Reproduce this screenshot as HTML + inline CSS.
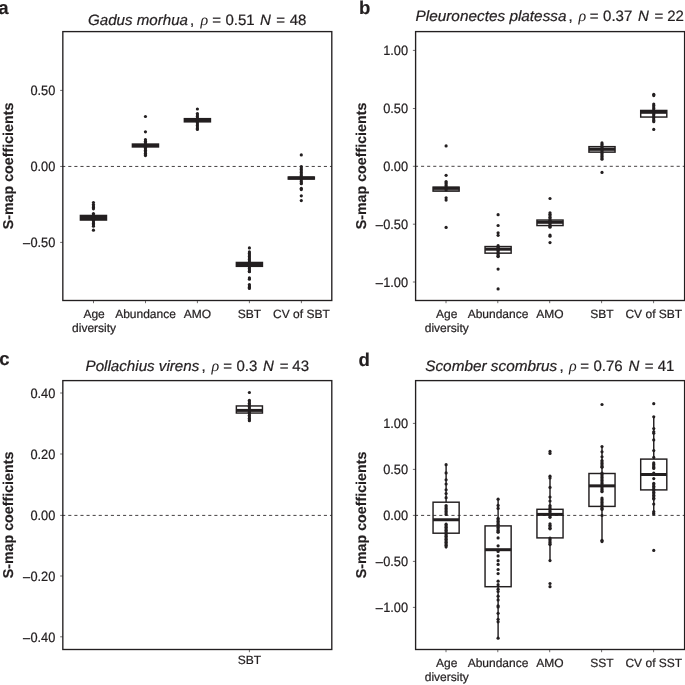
<!DOCTYPE html>
<html lang="en"><head><meta charset="utf-8"><title>S-map coefficients</title>
<style>
html,body{margin:0;padding:0;background:#fff;}
body{width:685px;height:685px;overflow:hidden;}
svg{display:block;will-change:transform;text-rendering:geometricPrecision;font-family:"Liberation Sans",sans-serif;}
</style></head><body>
<svg width="685" height="685" viewBox="0 0 685 685">
<rect x="0" y="0" width="685" height="685" fill="#ffffff"/>
<line x1="62.18" y1="166.45" x2="331.8" y2="166.45" stroke="#231f20" stroke-width="0.85" stroke-dasharray="3.1 2.986"/>
<rect x="80.40" y="215.45" width="26.10" height="4.60" fill="#231f20" stroke="#231f20" stroke-width="1.45"/>
<line x1="80.40" y1="217.70" x2="106.50" y2="217.70" stroke="#231f20" stroke-width="3.0"/>
<circle cx="93.45" cy="202.5" r="1.6" fill="#231f20"/>
<circle cx="93.45" cy="204.6" r="1.6" fill="#231f20"/>
<circle cx="93.45" cy="206.0" r="1.6" fill="#231f20"/>
<circle cx="93.45" cy="207.4" r="1.6" fill="#231f20"/>
<circle cx="93.45" cy="208.8" r="1.6" fill="#231f20"/>
<circle cx="93.45" cy="213.6" r="1.6" fill="#231f20"/>
<circle cx="93.45" cy="215.0" r="1.6" fill="#231f20"/>
<circle cx="93.45" cy="216.4" r="1.6" fill="#231f20"/>
<circle cx="93.45" cy="217.8" r="1.6" fill="#231f20"/>
<circle cx="93.45" cy="219.2" r="1.6" fill="#231f20"/>
<circle cx="93.45" cy="220.6" r="1.6" fill="#231f20"/>
<circle cx="93.45" cy="222.0" r="1.6" fill="#231f20"/>
<circle cx="93.45" cy="223.4" r="1.6" fill="#231f20"/>
<circle cx="93.45" cy="224.8" r="1.6" fill="#231f20"/>
<circle cx="93.45" cy="226.2" r="1.6" fill="#231f20"/>
<circle cx="93.45" cy="230.2" r="1.6" fill="#231f20"/>
<rect x="132.40" y="144.05" width="26.10" height="2.90" fill="#231f20" stroke="#231f20" stroke-width="1.45"/>
<line x1="132.40" y1="145.50" x2="158.50" y2="145.50" stroke="#231f20" stroke-width="3.0"/>
<circle cx="145.45" cy="116.5" r="1.6" fill="#231f20"/>
<circle cx="145.45" cy="131.8" r="1.6" fill="#231f20"/>
<circle cx="145.45" cy="139.7" r="1.6" fill="#231f20"/>
<circle cx="145.45" cy="141.2" r="1.6" fill="#231f20"/>
<circle cx="145.45" cy="142.7" r="1.6" fill="#231f20"/>
<circle cx="145.45" cy="144.2" r="1.6" fill="#231f20"/>
<circle cx="145.45" cy="145.7" r="1.6" fill="#231f20"/>
<circle cx="145.45" cy="147.2" r="1.6" fill="#231f20"/>
<circle cx="145.45" cy="148.7" r="1.6" fill="#231f20"/>
<circle cx="145.45" cy="150.2" r="1.6" fill="#231f20"/>
<circle cx="145.45" cy="151.7" r="1.6" fill="#231f20"/>
<circle cx="145.45" cy="153.2" r="1.6" fill="#231f20"/>
<circle cx="145.45" cy="154.7" r="1.6" fill="#231f20"/>
<circle cx="145.45" cy="155.6" r="1.6" fill="#231f20"/>
<rect x="184.35" y="118.65" width="26.10" height="3.20" fill="#231f20" stroke="#231f20" stroke-width="1.45"/>
<line x1="184.35" y1="120.20" x2="210.45" y2="120.20" stroke="#231f20" stroke-width="3.0"/>
<circle cx="197.4" cy="109" r="1.6" fill="#231f20"/>
<circle cx="197.4" cy="113.5" r="1.6" fill="#231f20"/>
<circle cx="197.4" cy="115.0" r="1.6" fill="#231f20"/>
<circle cx="197.4" cy="116.5" r="1.6" fill="#231f20"/>
<circle cx="197.4" cy="118.0" r="1.6" fill="#231f20"/>
<circle cx="197.4" cy="119.5" r="1.6" fill="#231f20"/>
<circle cx="197.4" cy="121.0" r="1.6" fill="#231f20"/>
<circle cx="197.4" cy="122.5" r="1.6" fill="#231f20"/>
<circle cx="197.4" cy="124.0" r="1.6" fill="#231f20"/>
<circle cx="197.4" cy="125.5" r="1.6" fill="#231f20"/>
<circle cx="197.4" cy="127.0" r="1.6" fill="#231f20"/>
<circle cx="197.4" cy="128.5" r="1.6" fill="#231f20"/>
<circle cx="197.4" cy="129.5" r="1.6" fill="#231f20"/>
<rect x="236.35" y="262.45" width="26.10" height="3.90" fill="#231f20" stroke="#231f20" stroke-width="1.45"/>
<line x1="236.35" y1="264.40" x2="262.45" y2="264.40" stroke="#231f20" stroke-width="3.0"/>
<circle cx="249.4" cy="247.9" r="1.6" fill="#231f20"/>
<circle cx="249.4" cy="251.9" r="1.6" fill="#231f20"/>
<circle cx="249.4" cy="253.4" r="1.6" fill="#231f20"/>
<circle cx="249.4" cy="254.9" r="1.6" fill="#231f20"/>
<circle cx="249.4" cy="256.4" r="1.6" fill="#231f20"/>
<circle cx="249.4" cy="257.9" r="1.6" fill="#231f20"/>
<circle cx="249.4" cy="259.4" r="1.6" fill="#231f20"/>
<circle cx="249.4" cy="260.9" r="1.6" fill="#231f20"/>
<circle cx="249.4" cy="262.4" r="1.6" fill="#231f20"/>
<circle cx="249.4" cy="263.9" r="1.6" fill="#231f20"/>
<circle cx="249.4" cy="265.4" r="1.6" fill="#231f20"/>
<circle cx="249.4" cy="266.9" r="1.6" fill="#231f20"/>
<circle cx="249.4" cy="268.4" r="1.6" fill="#231f20"/>
<circle cx="249.4" cy="269.9" r="1.6" fill="#231f20"/>
<circle cx="249.4" cy="271.4" r="1.6" fill="#231f20"/>
<circle cx="249.4" cy="271.7" r="1.6" fill="#231f20"/>
<circle cx="249.4" cy="277.9" r="1.6" fill="#231f20"/>
<circle cx="249.4" cy="279.2" r="1.6" fill="#231f20"/>
<circle cx="249.4" cy="284.6" r="1.6" fill="#231f20"/>
<circle cx="249.4" cy="285.9" r="1.6" fill="#231f20"/>
<circle cx="249.4" cy="287.2" r="1.6" fill="#231f20"/>
<circle cx="249.4" cy="288.5" r="1.6" fill="#231f20"/>
<rect x="288.25" y="177.05" width="26.10" height="2.00" fill="#231f20" stroke="#231f20" stroke-width="1.45"/>
<line x1="288.25" y1="178.00" x2="314.35" y2="178.00" stroke="#231f20" stroke-width="3.0"/>
<circle cx="301.3" cy="154.9" r="1.6" fill="#231f20"/>
<circle cx="301.3" cy="166.5" r="1.6" fill="#231f20"/>
<circle cx="301.3" cy="168.0" r="1.6" fill="#231f20"/>
<circle cx="301.3" cy="169.5" r="1.6" fill="#231f20"/>
<circle cx="301.3" cy="171.0" r="1.6" fill="#231f20"/>
<circle cx="301.3" cy="172.5" r="1.6" fill="#231f20"/>
<circle cx="301.3" cy="174.0" r="1.6" fill="#231f20"/>
<circle cx="301.3" cy="175.5" r="1.6" fill="#231f20"/>
<circle cx="301.3" cy="177.0" r="1.6" fill="#231f20"/>
<circle cx="301.3" cy="178.5" r="1.6" fill="#231f20"/>
<circle cx="301.3" cy="180.0" r="1.6" fill="#231f20"/>
<circle cx="301.3" cy="181.5" r="1.6" fill="#231f20"/>
<circle cx="301.3" cy="183.0" r="1.6" fill="#231f20"/>
<circle cx="301.3" cy="183.7" r="1.6" fill="#231f20"/>
<circle cx="301.3" cy="188.3" r="1.6" fill="#231f20"/>
<circle cx="301.3" cy="189.6" r="1.6" fill="#231f20"/>
<circle cx="301.3" cy="195.8" r="1.6" fill="#231f20"/>
<circle cx="301.3" cy="200.6" r="1.6" fill="#231f20"/>
<rect x="62.83" y="31.6" width="268.97" height="268.90" fill="none" stroke="#231f20" stroke-width="1.35"/>
<line x1="60.13" y1="90.4" x2="62.83" y2="90.4" stroke="#231f20" stroke-width="0.65"/>
<text transform="translate(55.33,95.15) scale(1,1.06)" font-size="12.8" stroke="#231f20" stroke-width="0.22" text-anchor="end" fill="#231f20">0.50</text>
<line x1="60.13" y1="166.45" x2="62.83" y2="166.45" stroke="#231f20" stroke-width="0.65"/>
<text transform="translate(55.33,171.20) scale(1,1.06)" font-size="12.8" stroke="#231f20" stroke-width="0.22" text-anchor="end" fill="#231f20">0.00</text>
<line x1="60.13" y1="242.4" x2="62.83" y2="242.4" stroke="#231f20" stroke-width="0.65"/>
<text transform="translate(55.33,247.15) scale(1,1.06)" font-size="12.8" stroke="#231f20" stroke-width="0.22" text-anchor="end" fill="#231f20">–<tspan dx="0.4">0.50</tspan></text>
<line x1="93.5" y1="300.5" x2="93.5" y2="303.20" stroke="#231f20" stroke-width="0.65"/>
<text x="94.10" y="317.60" font-size="12.0" stroke="#231f20" stroke-width="0.22" text-anchor="middle" fill="#231f20">Age</text>
<text x="94.10" y="332.20" font-size="12.0" stroke="#231f20" stroke-width="0.22" text-anchor="middle" fill="#231f20">diversity</text>
<line x1="145.5" y1="300.5" x2="145.5" y2="303.20" stroke="#231f20" stroke-width="0.65"/>
<text x="145.50" y="317.60" font-size="12.0" stroke="#231f20" stroke-width="0.22" text-anchor="middle" fill="#231f20">Abundance</text>
<line x1="197.4" y1="300.5" x2="197.4" y2="303.20" stroke="#231f20" stroke-width="0.65"/>
<text x="197.40" y="317.60" font-size="12.0" stroke="#231f20" stroke-width="0.22" text-anchor="middle" fill="#231f20">AMO</text>
<line x1="249.4" y1="300.5" x2="249.4" y2="303.20" stroke="#231f20" stroke-width="0.65"/>
<text x="249.40" y="317.60" font-size="12.0" stroke="#231f20" stroke-width="0.22" text-anchor="middle" fill="#231f20">SBT</text>
<line x1="301.4" y1="300.5" x2="301.4" y2="303.20" stroke="#231f20" stroke-width="0.65"/>
<text x="301.40" y="317.60" font-size="12.0" stroke="#231f20" stroke-width="0.22" text-anchor="middle" fill="#231f20">CV of SBT</text>
<text transform="translate(13.0,166.0) rotate(-90)" font-size="14.25" font-weight="bold" stroke="#231f20" stroke-width="0.15" text-anchor="middle" fill="#231f20">S-map coefficients</text>
<text x="-1.71" y="14.10" font-size="18.6" font-weight="bold" stroke="#231f20" stroke-width="0.15" fill="#231f20">a</text>
<text x="88.02" y="24.80" font-size="15" font-style="italic" stroke="#231f20" stroke-width="0.22" fill="#231f20" textLength="100.03" lengthAdjust="spacingAndGlyphs">Gadus morhua</text>
<text x="190.05" y="24.80" font-size="15" stroke="#231f20" stroke-width="0.22" fill="#231f20">,</text>
<text x="200.48" y="24.80" font-size="16" font-style="italic" font-family="'Liberation Serif', serif" fill="#231f20">ρ</text>
<text x="212.32" y="24.80" font-size="15" stroke="#231f20" stroke-width="0.22" fill="#231f20">=</text>
<text x="225.47" y="24.80" font-size="15" stroke="#231f20" stroke-width="0.22" fill="#231f20">0.51</text>
<text x="260.05" y="24.80" font-size="15" font-style="italic" stroke="#231f20" stroke-width="0.22" fill="#231f20">N</text>
<text x="276.32" y="24.80" font-size="15" stroke="#231f20" stroke-width="0.22" fill="#231f20">=</text>
<text x="289.70" y="24.80" font-size="15" stroke="#231f20" stroke-width="0.22" fill="#231f20">48</text>
<line x1="414.95" y1="166.3" x2="684.6" y2="166.3" stroke="#231f20" stroke-width="0.85" stroke-dasharray="3.1 2.986"/>
<rect x="433.05" y="187.15" width="26.10" height="4.00" fill="#9a9a9a" stroke="#231f20" stroke-width="1.45"/>
<line x1="433.05" y1="188.30" x2="459.15" y2="188.30" stroke="#231f20" stroke-width="3.0"/>
<circle cx="446.1" cy="145.9" r="1.6" fill="#231f20"/>
<circle cx="446.1" cy="175.3" r="1.6" fill="#231f20"/>
<circle cx="446.1" cy="181.5" r="1.6" fill="#231f20"/>
<circle cx="446.1" cy="182.8" r="1.6" fill="#231f20"/>
<circle cx="446.1" cy="184" r="1.6" fill="#231f20"/>
<circle cx="446.1" cy="185.5" r="1.6" fill="#231f20"/>
<circle cx="446.1" cy="187.0" r="1.6" fill="#231f20"/>
<circle cx="446.1" cy="188.5" r="1.6" fill="#231f20"/>
<circle cx="446.1" cy="190.0" r="1.6" fill="#231f20"/>
<circle cx="446.1" cy="197.8" r="1.6" fill="#231f20"/>
<circle cx="446.1" cy="200.1" r="1.6" fill="#231f20"/>
<circle cx="446.1" cy="227.4" r="1.6" fill="#231f20"/>
<rect x="485.05" y="246.55" width="26.10" height="6.60" fill="none" stroke="#231f20" stroke-width="1.45"/>
<line x1="485.05" y1="249.20" x2="511.15" y2="249.20" stroke="#231f20" stroke-width="3.0"/>
<circle cx="498.1" cy="214.7" r="1.6" fill="#231f20"/>
<circle cx="498.1" cy="225.5" r="1.6" fill="#231f20"/>
<circle cx="498.1" cy="232.8" r="1.6" fill="#231f20"/>
<circle cx="498.1" cy="235.3" r="1.6" fill="#231f20"/>
<circle cx="498.1" cy="245.7" r="1.6" fill="#231f20"/>
<circle cx="498.1" cy="247.2" r="1.6" fill="#231f20"/>
<circle cx="498.1" cy="248.7" r="1.6" fill="#231f20"/>
<circle cx="498.1" cy="250.2" r="1.6" fill="#231f20"/>
<circle cx="498.1" cy="251.7" r="1.6" fill="#231f20"/>
<circle cx="498.1" cy="253.2" r="1.6" fill="#231f20"/>
<circle cx="498.1" cy="254.7" r="1.6" fill="#231f20"/>
<circle cx="498.1" cy="256.2" r="1.6" fill="#231f20"/>
<circle cx="498.1" cy="256.6" r="1.6" fill="#231f20"/>
<circle cx="498.1" cy="269.1" r="1.6" fill="#231f20"/>
<circle cx="498.1" cy="288.9" r="1.6" fill="#231f20"/>
<rect x="536.95" y="220.05" width="26.10" height="5.50" fill="none" stroke="#231f20" stroke-width="1.45"/>
<line x1="536.95" y1="222.30" x2="563.05" y2="222.30" stroke="#231f20" stroke-width="3.0"/>
<circle cx="550.0" cy="198.5" r="1.6" fill="#231f20"/>
<circle cx="550.0" cy="212.8" r="1.6" fill="#231f20"/>
<circle cx="550.0" cy="214.3" r="1.6" fill="#231f20"/>
<circle cx="550.0" cy="215.8" r="1.6" fill="#231f20"/>
<circle cx="550.0" cy="217.3" r="1.6" fill="#231f20"/>
<circle cx="550.0" cy="218.8" r="1.6" fill="#231f20"/>
<circle cx="550.0" cy="220.3" r="1.6" fill="#231f20"/>
<circle cx="550.0" cy="221.8" r="1.6" fill="#231f20"/>
<circle cx="550.0" cy="223.3" r="1.6" fill="#231f20"/>
<circle cx="550.0" cy="224.8" r="1.6" fill="#231f20"/>
<circle cx="550.0" cy="226.3" r="1.6" fill="#231f20"/>
<circle cx="550.0" cy="227.2" r="1.6" fill="#231f20"/>
<circle cx="550.0" cy="235.0" r="1.6" fill="#231f20"/>
<circle cx="550.0" cy="236.2" r="1.6" fill="#231f20"/>
<circle cx="550.0" cy="242.6" r="1.6" fill="#231f20"/>
<rect x="588.95" y="146.65" width="26.10" height="5.50" fill="#ddd" stroke="#231f20" stroke-width="1.45"/>
<line x1="588.95" y1="149.30" x2="615.05" y2="149.30" stroke="#231f20" stroke-width="3.0"/>
<circle cx="602.0" cy="142.9" r="1.6" fill="#231f20"/>
<circle cx="602.0" cy="144.4" r="1.6" fill="#231f20"/>
<circle cx="602.0" cy="145.9" r="1.6" fill="#231f20"/>
<circle cx="602.0" cy="147.4" r="1.6" fill="#231f20"/>
<circle cx="602.0" cy="148.9" r="1.6" fill="#231f20"/>
<circle cx="602.0" cy="150.4" r="1.6" fill="#231f20"/>
<circle cx="602.0" cy="151.9" r="1.6" fill="#231f20"/>
<circle cx="602.0" cy="153.4" r="1.6" fill="#231f20"/>
<circle cx="602.0" cy="154.9" r="1.6" fill="#231f20"/>
<circle cx="602.0" cy="156.4" r="1.6" fill="#231f20"/>
<circle cx="602.0" cy="157.9" r="1.6" fill="#231f20"/>
<circle cx="602.0" cy="159.2" r="1.6" fill="#231f20"/>
<circle cx="602.0" cy="172.4" r="1.6" fill="#231f20"/>
<rect x="640.70" y="110.45" width="26.10" height="6.60" fill="none" stroke="#231f20" stroke-width="1.45"/>
<line x1="640.70" y1="112.30" x2="666.80" y2="112.30" stroke="#231f20" stroke-width="3.0"/>
<circle cx="653.75" cy="94.3" r="1.6" fill="#231f20"/>
<circle cx="653.75" cy="95.6" r="1.6" fill="#231f20"/>
<circle cx="653.75" cy="104.1" r="1.6" fill="#231f20"/>
<circle cx="653.75" cy="105.6" r="1.6" fill="#231f20"/>
<circle cx="653.75" cy="107.1" r="1.6" fill="#231f20"/>
<circle cx="653.75" cy="108.6" r="1.6" fill="#231f20"/>
<circle cx="653.75" cy="110.1" r="1.6" fill="#231f20"/>
<circle cx="653.75" cy="111.6" r="1.6" fill="#231f20"/>
<circle cx="653.75" cy="113.1" r="1.6" fill="#231f20"/>
<circle cx="653.75" cy="114.6" r="1.6" fill="#231f20"/>
<circle cx="653.75" cy="116.1" r="1.6" fill="#231f20"/>
<circle cx="653.75" cy="117.6" r="1.6" fill="#231f20"/>
<circle cx="653.75" cy="119.1" r="1.6" fill="#231f20"/>
<circle cx="653.75" cy="120.6" r="1.6" fill="#231f20"/>
<circle cx="653.75" cy="121.7" r="1.6" fill="#231f20"/>
<circle cx="653.75" cy="129.4" r="1.6" fill="#231f20"/>
<rect x="415.6" y="31.6" width="269.00" height="268.90" fill="none" stroke="#231f20" stroke-width="1.35"/>
<line x1="412.90" y1="50.4" x2="415.6" y2="50.4" stroke="#231f20" stroke-width="0.65"/>
<text transform="translate(408.10,55.15) scale(1,1.06)" font-size="12.8" stroke="#231f20" stroke-width="0.22" text-anchor="end" fill="#231f20">1.00</text>
<line x1="412.90" y1="108.5" x2="415.6" y2="108.5" stroke="#231f20" stroke-width="0.65"/>
<text transform="translate(408.10,113.25) scale(1,1.06)" font-size="12.8" stroke="#231f20" stroke-width="0.22" text-anchor="end" fill="#231f20">0.50</text>
<line x1="412.90" y1="166.3" x2="415.6" y2="166.3" stroke="#231f20" stroke-width="0.65"/>
<text transform="translate(408.10,171.05) scale(1,1.06)" font-size="12.8" stroke="#231f20" stroke-width="0.22" text-anchor="end" fill="#231f20">0.00</text>
<line x1="412.90" y1="224.2" x2="415.6" y2="224.2" stroke="#231f20" stroke-width="0.65"/>
<text transform="translate(408.10,228.95) scale(1,1.06)" font-size="12.8" stroke="#231f20" stroke-width="0.22" text-anchor="end" fill="#231f20">–<tspan dx="0.4">0.50</tspan></text>
<line x1="412.90" y1="282.0" x2="415.6" y2="282.0" stroke="#231f20" stroke-width="0.65"/>
<text transform="translate(408.10,286.75) scale(1,1.06)" font-size="12.8" stroke="#231f20" stroke-width="0.22" text-anchor="end" fill="#231f20">–<tspan dx="0.4">1.00</tspan></text>
<line x1="446" y1="300.5" x2="446" y2="303.20" stroke="#231f20" stroke-width="0.65"/>
<text x="446.80" y="317.60" font-size="12.0" stroke="#231f20" stroke-width="0.22" text-anchor="middle" fill="#231f20">Age</text>
<text x="446.80" y="332.20" font-size="12.0" stroke="#231f20" stroke-width="0.22" text-anchor="middle" fill="#231f20">diversity</text>
<line x1="497.8" y1="300.5" x2="497.8" y2="303.20" stroke="#231f20" stroke-width="0.65"/>
<text x="498.00" y="317.60" font-size="12.0" stroke="#231f20" stroke-width="0.22" text-anchor="middle" fill="#231f20">Abundance</text>
<line x1="549.7" y1="300.5" x2="549.7" y2="303.20" stroke="#231f20" stroke-width="0.65"/>
<text x="549.90" y="317.60" font-size="12.0" stroke="#231f20" stroke-width="0.22" text-anchor="middle" fill="#231f20">AMO</text>
<line x1="601.6" y1="300.5" x2="601.6" y2="303.20" stroke="#231f20" stroke-width="0.65"/>
<text x="601.80" y="317.60" font-size="12.0" stroke="#231f20" stroke-width="0.22" text-anchor="middle" fill="#231f20">SBT</text>
<line x1="653.6" y1="300.5" x2="653.6" y2="303.20" stroke="#231f20" stroke-width="0.65"/>
<text x="653.80" y="317.60" font-size="12.0" stroke="#231f20" stroke-width="0.22" text-anchor="middle" fill="#231f20">CV of SBT</text>
<text transform="translate(365.7,166.0) rotate(-90)" font-size="14.25" font-weight="bold" stroke="#231f20" stroke-width="0.15" text-anchor="middle" fill="#231f20">S-map coefficients</text>
<text x="358.99" y="14.10" font-size="18.6" font-weight="bold" stroke="#231f20" stroke-width="0.15" fill="#231f20">b</text>
<text x="415.54" y="21.40" font-size="15" font-style="italic" stroke="#231f20" stroke-width="0.22" fill="#231f20" textLength="151.01" lengthAdjust="spacingAndGlyphs">Pleuronectes platessa</text>
<text x="568.45" y="21.40" font-size="15" stroke="#231f20" stroke-width="0.22" fill="#231f20">,</text>
<text x="578.48" y="21.40" font-size="16" font-style="italic" font-family="'Liberation Serif', serif" fill="#231f20">ρ</text>
<text x="589.73" y="21.40" font-size="15" stroke="#231f20" stroke-width="0.22" fill="#231f20">=</text>
<text x="603.08" y="21.40" font-size="15" stroke="#231f20" stroke-width="0.22" fill="#231f20">0.37</text>
<text x="638.05" y="21.40" font-size="15" font-style="italic" stroke="#231f20" stroke-width="0.22" fill="#231f20">N</text>
<text x="654.53" y="21.40" font-size="15" stroke="#231f20" stroke-width="0.22" fill="#231f20">=</text>
<text x="667.25" y="21.40" font-size="15" stroke="#231f20" stroke-width="0.22" fill="#231f20">22</text>
<line x1="62.18" y1="515.4" x2="331.8" y2="515.4" stroke="#231f20" stroke-width="0.85" stroke-dasharray="3.1 2.986"/>
<rect x="236.35" y="405.95" width="26.10" height="7.10" fill="none" stroke="#231f20" stroke-width="1.45"/>
<line x1="236.35" y1="410.40" x2="262.45" y2="410.40" stroke="#231f20" stroke-width="3.0"/>
<circle cx="249.4" cy="392.5" r="1.6" fill="#231f20"/>
<circle cx="249.4" cy="400.3" r="1.6" fill="#231f20"/>
<circle cx="249.4" cy="401.8" r="1.6" fill="#231f20"/>
<circle cx="249.4" cy="403.3" r="1.6" fill="#231f20"/>
<circle cx="249.4" cy="404.8" r="1.6" fill="#231f20"/>
<circle cx="249.4" cy="406.3" r="1.6" fill="#231f20"/>
<circle cx="249.4" cy="407.8" r="1.6" fill="#231f20"/>
<circle cx="249.4" cy="409.3" r="1.6" fill="#231f20"/>
<circle cx="249.4" cy="410.8" r="1.6" fill="#231f20"/>
<circle cx="249.4" cy="412.3" r="1.6" fill="#231f20"/>
<circle cx="249.4" cy="413.8" r="1.6" fill="#231f20"/>
<circle cx="249.4" cy="415.3" r="1.6" fill="#231f20"/>
<circle cx="249.4" cy="416.8" r="1.6" fill="#231f20"/>
<circle cx="249.4" cy="418.3" r="1.6" fill="#231f20"/>
<circle cx="249.4" cy="419.8" r="1.6" fill="#231f20"/>
<circle cx="249.4" cy="420.7" r="1.6" fill="#231f20"/>
<rect x="62.83" y="380.6" width="268.97" height="268.90" fill="none" stroke="#231f20" stroke-width="1.35"/>
<line x1="60.13" y1="393.0" x2="62.83" y2="393.0" stroke="#231f20" stroke-width="0.65"/>
<text transform="translate(55.33,397.75) scale(1,1.06)" font-size="12.8" stroke="#231f20" stroke-width="0.22" text-anchor="end" fill="#231f20">0.40</text>
<line x1="60.13" y1="454.0" x2="62.83" y2="454.0" stroke="#231f20" stroke-width="0.65"/>
<text transform="translate(55.33,458.75) scale(1,1.06)" font-size="12.8" stroke="#231f20" stroke-width="0.22" text-anchor="end" fill="#231f20">0.20</text>
<line x1="60.13" y1="515.4" x2="62.83" y2="515.4" stroke="#231f20" stroke-width="0.65"/>
<text transform="translate(55.33,520.15) scale(1,1.06)" font-size="12.8" stroke="#231f20" stroke-width="0.22" text-anchor="end" fill="#231f20">0.00</text>
<line x1="60.13" y1="576.0" x2="62.83" y2="576.0" stroke="#231f20" stroke-width="0.65"/>
<text transform="translate(55.33,580.75) scale(1,1.06)" font-size="12.8" stroke="#231f20" stroke-width="0.22" text-anchor="end" fill="#231f20">–<tspan dx="0.4">0.20</tspan></text>
<line x1="60.13" y1="636.8" x2="62.83" y2="636.8" stroke="#231f20" stroke-width="0.65"/>
<text transform="translate(55.33,641.55) scale(1,1.06)" font-size="12.8" stroke="#231f20" stroke-width="0.22" text-anchor="end" fill="#231f20">–<tspan dx="0.4">0.40</tspan></text>
<line x1="249.4" y1="649.5" x2="249.4" y2="652.20" stroke="#231f20" stroke-width="0.65"/>
<text x="249.40" y="664.20" font-size="12.0" stroke="#231f20" stroke-width="0.22" text-anchor="middle" fill="#231f20">SBT</text>
<text transform="translate(13.0,515.0) rotate(-90)" font-size="14.25" font-weight="bold" stroke="#231f20" stroke-width="0.15" text-anchor="middle" fill="#231f20">S-map coefficients</text>
<text x="-0.86" y="365.10" font-size="18.6" font-weight="bold" stroke="#231f20" stroke-width="0.15" fill="#231f20">c</text>
<text x="85.55" y="370.80" font-size="15" font-style="italic" stroke="#231f20" stroke-width="0.22" fill="#231f20" textLength="113.74" lengthAdjust="spacingAndGlyphs">Pollachius virens</text>
<text x="201.45" y="370.80" font-size="15" stroke="#231f20" stroke-width="0.22" fill="#231f20">,</text>
<text x="211.48" y="370.80" font-size="16" font-style="italic" font-family="'Liberation Serif', serif" fill="#231f20">ρ</text>
<text x="223.32" y="370.80" font-size="15" stroke="#231f20" stroke-width="0.22" fill="#231f20">=</text>
<text x="236.47" y="370.80" font-size="15" stroke="#231f20" stroke-width="0.22" fill="#231f20">0.3</text>
<text x="263.05" y="370.80" font-size="15" font-style="italic" stroke="#231f20" stroke-width="0.22" fill="#231f20">N</text>
<text x="279.72" y="370.80" font-size="15" stroke="#231f20" stroke-width="0.22" fill="#231f20">=</text>
<text x="292.30" y="370.80" font-size="15" stroke="#231f20" stroke-width="0.22" fill="#231f20">43</text>
<line x1="414.95" y1="515.4" x2="684.6" y2="515.4" stroke="#231f20" stroke-width="0.85" stroke-dasharray="3.1 2.986"/>
<line x1="446.1" y1="464.7" x2="446.1" y2="502.2" stroke="#231f20" stroke-width="1.45"/>
<line x1="446.1" y1="533.2" x2="446.1" y2="548.5" stroke="#231f20" stroke-width="1.45"/>
<rect x="433.05" y="502.20" width="26.10" height="31.00" fill="none" stroke="#231f20" stroke-width="1.45"/>
<line x1="433.05" y1="519.75" x2="459.15" y2="519.75" stroke="#231f20" stroke-width="3.0"/>
<circle cx="446.1" cy="464.7" r="1.6" fill="#231f20"/>
<circle cx="446.1" cy="472.9" r="1.6" fill="#231f20"/>
<circle cx="446.1" cy="479.8" r="1.6" fill="#231f20"/>
<circle cx="446.1" cy="484" r="1.6" fill="#231f20"/>
<circle cx="446.1" cy="489.8" r="1.6" fill="#231f20"/>
<circle cx="446.1" cy="493.5" r="1.6" fill="#231f20"/>
<circle cx="446.1" cy="497.7" r="1.6" fill="#231f20"/>
<circle cx="446.1" cy="505.5" r="1.6" fill="#231f20"/>
<circle cx="446.1" cy="507.0" r="1.6" fill="#231f20"/>
<circle cx="446.1" cy="508.5" r="1.6" fill="#231f20"/>
<circle cx="446.1" cy="510.0" r="1.6" fill="#231f20"/>
<circle cx="446.1" cy="511.5" r="1.6" fill="#231f20"/>
<circle cx="446.1" cy="513.0" r="1.6" fill="#231f20"/>
<circle cx="446.1" cy="514.5" r="1.6" fill="#231f20"/>
<circle cx="446.1" cy="524.2" r="1.6" fill="#231f20"/>
<circle cx="446.1" cy="525.7" r="1.6" fill="#231f20"/>
<circle cx="446.1" cy="527.2" r="1.6" fill="#231f20"/>
<circle cx="446.1" cy="528.7" r="1.6" fill="#231f20"/>
<circle cx="446.1" cy="530.2" r="1.6" fill="#231f20"/>
<circle cx="446.1" cy="531.7" r="1.6" fill="#231f20"/>
<circle cx="446.1" cy="533.2" r="1.6" fill="#231f20"/>
<circle cx="446.1" cy="534.7" r="1.6" fill="#231f20"/>
<circle cx="446.1" cy="536.2" r="1.6" fill="#231f20"/>
<circle cx="446.1" cy="537.7" r="1.6" fill="#231f20"/>
<circle cx="446.1" cy="539.2" r="1.6" fill="#231f20"/>
<circle cx="446.1" cy="540.7" r="1.6" fill="#231f20"/>
<circle cx="446.1" cy="542.2" r="1.6" fill="#231f20"/>
<circle cx="446.1" cy="543.7" r="1.6" fill="#231f20"/>
<circle cx="446.1" cy="545.2" r="1.6" fill="#231f20"/>
<circle cx="446.1" cy="546.7" r="1.6" fill="#231f20"/>
<line x1="498.1" y1="499.2" x2="498.1" y2="525.9" stroke="#231f20" stroke-width="1.45"/>
<line x1="498.1" y1="586.7" x2="498.1" y2="638.2" stroke="#231f20" stroke-width="1.45"/>
<rect x="485.05" y="525.90" width="26.10" height="60.80" fill="none" stroke="#231f20" stroke-width="1.45"/>
<line x1="485.05" y1="549.70" x2="511.15" y2="549.70" stroke="#231f20" stroke-width="3.0"/>
<circle cx="498.1" cy="499.2" r="1.6" fill="#231f20"/>
<circle cx="498.1" cy="505.4" r="1.6" fill="#231f20"/>
<circle cx="498.1" cy="508.4" r="1.6" fill="#231f20"/>
<circle cx="498.1" cy="518.3" r="1.6" fill="#231f20"/>
<circle cx="498.1" cy="519.8" r="1.6" fill="#231f20"/>
<circle cx="498.1" cy="521.3" r="1.6" fill="#231f20"/>
<circle cx="498.1" cy="522.8" r="1.6" fill="#231f20"/>
<circle cx="498.1" cy="524.3" r="1.6" fill="#231f20"/>
<circle cx="498.1" cy="525.8" r="1.6" fill="#231f20"/>
<circle cx="498.1" cy="527.3" r="1.6" fill="#231f20"/>
<circle cx="498.1" cy="528.8" r="1.6" fill="#231f20"/>
<circle cx="498.1" cy="530.3" r="1.6" fill="#231f20"/>
<circle cx="498.1" cy="531.8" r="1.6" fill="#231f20"/>
<circle cx="498.1" cy="532.2" r="1.6" fill="#231f20"/>
<circle cx="498.1" cy="537.9" r="1.6" fill="#231f20"/>
<circle cx="498.1" cy="545.8" r="1.6" fill="#231f20"/>
<circle cx="498.1" cy="551.5" r="1.6" fill="#231f20"/>
<circle cx="498.1" cy="555.9" r="1.6" fill="#231f20"/>
<circle cx="498.1" cy="560.7" r="1.6" fill="#231f20"/>
<circle cx="498.1" cy="564.4" r="1.6" fill="#231f20"/>
<circle cx="498.1" cy="569.5" r="1.6" fill="#231f20"/>
<circle cx="498.1" cy="573.6" r="1.6" fill="#231f20"/>
<circle cx="498.1" cy="581.2" r="1.6" fill="#231f20"/>
<circle cx="498.1" cy="584.7" r="1.6" fill="#231f20"/>
<circle cx="498.1" cy="589.2" r="1.6" fill="#231f20"/>
<circle cx="498.1" cy="591.5" r="1.6" fill="#231f20"/>
<circle cx="498.1" cy="596.2" r="1.6" fill="#231f20"/>
<circle cx="498.1" cy="599.9" r="1.6" fill="#231f20"/>
<circle cx="498.1" cy="605.8" r="1.6" fill="#231f20"/>
<circle cx="498.1" cy="607" r="1.6" fill="#231f20"/>
<circle cx="498.1" cy="613.3" r="1.6" fill="#231f20"/>
<circle cx="498.1" cy="619.3" r="1.6" fill="#231f20"/>
<circle cx="498.1" cy="621.8" r="1.6" fill="#231f20"/>
<circle cx="498.1" cy="638.2" r="1.6" fill="#231f20"/>
<line x1="550.0" y1="476.2" x2="550.0" y2="509.3" stroke="#231f20" stroke-width="1.45"/>
<line x1="550.0" y1="537.9" x2="550.0" y2="560.6" stroke="#231f20" stroke-width="1.45"/>
<rect x="536.95" y="509.30" width="26.10" height="28.60" fill="none" stroke="#231f20" stroke-width="1.45"/>
<line x1="536.95" y1="514.40" x2="563.05" y2="514.40" stroke="#231f20" stroke-width="3.0"/>
<circle cx="550.0" cy="451.4" r="1.6" fill="#231f20"/>
<circle cx="550.0" cy="453.4" r="1.6" fill="#231f20"/>
<circle cx="550.0" cy="583.5" r="1.6" fill="#231f20"/>
<circle cx="550.0" cy="586.7" r="1.6" fill="#231f20"/>
<circle cx="550.0" cy="476.2" r="1.6" fill="#231f20"/>
<circle cx="550.0" cy="478" r="1.6" fill="#231f20"/>
<circle cx="550.0" cy="487.4" r="1.6" fill="#231f20"/>
<circle cx="550.0" cy="497.1" r="1.6" fill="#231f20"/>
<circle cx="550.0" cy="501" r="1.6" fill="#231f20"/>
<circle cx="550.0" cy="505.5" r="1.6" fill="#231f20"/>
<circle cx="550.0" cy="507.0" r="1.6" fill="#231f20"/>
<circle cx="550.0" cy="508.5" r="1.6" fill="#231f20"/>
<circle cx="550.0" cy="510.0" r="1.6" fill="#231f20"/>
<circle cx="550.0" cy="511.5" r="1.6" fill="#231f20"/>
<circle cx="550.0" cy="513.0" r="1.6" fill="#231f20"/>
<circle cx="550.0" cy="514.5" r="1.6" fill="#231f20"/>
<circle cx="550.0" cy="516.0" r="1.6" fill="#231f20"/>
<circle cx="550.0" cy="517.3" r="1.6" fill="#231f20"/>
<circle cx="550.0" cy="523.8" r="1.6" fill="#231f20"/>
<circle cx="550.0" cy="525.3" r="1.6" fill="#231f20"/>
<circle cx="550.0" cy="526.8" r="1.6" fill="#231f20"/>
<circle cx="550.0" cy="528.3" r="1.6" fill="#231f20"/>
<circle cx="550.0" cy="528.8" r="1.6" fill="#231f20"/>
<circle cx="550.0" cy="538" r="1.6" fill="#231f20"/>
<circle cx="550.0" cy="539.5" r="1.6" fill="#231f20"/>
<circle cx="550.0" cy="541.0" r="1.6" fill="#231f20"/>
<circle cx="550.0" cy="542.5" r="1.6" fill="#231f20"/>
<circle cx="550.0" cy="544.0" r="1.6" fill="#231f20"/>
<circle cx="550.0" cy="544.6" r="1.6" fill="#231f20"/>
<circle cx="550.0" cy="560.6" r="1.6" fill="#231f20"/>
<line x1="602.0" y1="446.6" x2="602.0" y2="473.5" stroke="#231f20" stroke-width="1.45"/>
<line x1="602.0" y1="506.4" x2="602.0" y2="541" stroke="#231f20" stroke-width="1.45"/>
<rect x="588.95" y="473.50" width="26.10" height="32.90" fill="none" stroke="#231f20" stroke-width="1.45"/>
<line x1="588.95" y1="485.85" x2="615.05" y2="485.85" stroke="#231f20" stroke-width="3.0"/>
<circle cx="602.0" cy="404.5" r="1.6" fill="#231f20"/>
<circle cx="602.0" cy="446.6" r="1.6" fill="#231f20"/>
<circle cx="602.0" cy="451.8" r="1.6" fill="#231f20"/>
<circle cx="602.0" cy="456.8" r="1.6" fill="#231f20"/>
<circle cx="602.0" cy="460.5" r="1.6" fill="#231f20"/>
<circle cx="602.0" cy="462.0" r="1.6" fill="#231f20"/>
<circle cx="602.0" cy="463.5" r="1.6" fill="#231f20"/>
<circle cx="602.0" cy="465.0" r="1.6" fill="#231f20"/>
<circle cx="602.0" cy="466.5" r="1.6" fill="#231f20"/>
<circle cx="602.0" cy="467.3" r="1.6" fill="#231f20"/>
<circle cx="602.0" cy="473" r="1.6" fill="#231f20"/>
<circle cx="602.0" cy="474.5" r="1.6" fill="#231f20"/>
<circle cx="602.0" cy="476.0" r="1.6" fill="#231f20"/>
<circle cx="602.0" cy="477.5" r="1.6" fill="#231f20"/>
<circle cx="602.0" cy="479.0" r="1.6" fill="#231f20"/>
<circle cx="602.0" cy="480.5" r="1.6" fill="#231f20"/>
<circle cx="602.0" cy="482.0" r="1.6" fill="#231f20"/>
<circle cx="602.0" cy="483.5" r="1.6" fill="#231f20"/>
<circle cx="602.0" cy="485.0" r="1.6" fill="#231f20"/>
<circle cx="602.0" cy="486.5" r="1.6" fill="#231f20"/>
<circle cx="602.0" cy="488.0" r="1.6" fill="#231f20"/>
<circle cx="602.0" cy="489.5" r="1.6" fill="#231f20"/>
<circle cx="602.0" cy="491.0" r="1.6" fill="#231f20"/>
<circle cx="602.0" cy="491.7" r="1.6" fill="#231f20"/>
<circle cx="602.0" cy="498" r="1.6" fill="#231f20"/>
<circle cx="602.0" cy="499.5" r="1.6" fill="#231f20"/>
<circle cx="602.0" cy="501.0" r="1.6" fill="#231f20"/>
<circle cx="602.0" cy="502.5" r="1.6" fill="#231f20"/>
<circle cx="602.0" cy="504.0" r="1.6" fill="#231f20"/>
<circle cx="602.0" cy="505.5" r="1.6" fill="#231f20"/>
<circle cx="602.0" cy="507.0" r="1.6" fill="#231f20"/>
<circle cx="602.0" cy="508.5" r="1.6" fill="#231f20"/>
<circle cx="602.0" cy="509.4" r="1.6" fill="#231f20"/>
<circle cx="602.0" cy="515.4" r="1.6" fill="#231f20"/>
<circle cx="602.0" cy="540.3" r="1.6" fill="#231f20"/>
<circle cx="602.0" cy="541.6" r="1.6" fill="#231f20"/>
<line x1="653.75" y1="416.8" x2="653.75" y2="459.1" stroke="#231f20" stroke-width="1.45"/>
<line x1="653.75" y1="489.9" x2="653.75" y2="514.5" stroke="#231f20" stroke-width="1.45"/>
<rect x="640.70" y="459.10" width="26.10" height="30.80" fill="none" stroke="#231f20" stroke-width="1.45"/>
<line x1="640.70" y1="474.50" x2="666.80" y2="474.50" stroke="#231f20" stroke-width="3.0"/>
<circle cx="653.75" cy="403.7" r="1.6" fill="#231f20"/>
<circle cx="653.75" cy="550.4" r="1.6" fill="#231f20"/>
<circle cx="653.75" cy="416.8" r="1.6" fill="#231f20"/>
<circle cx="653.75" cy="428.6" r="1.6" fill="#231f20"/>
<circle cx="653.75" cy="431.8" r="1.6" fill="#231f20"/>
<circle cx="653.75" cy="433.2" r="1.6" fill="#231f20"/>
<circle cx="653.75" cy="439.9" r="1.6" fill="#231f20"/>
<circle cx="653.75" cy="450.6" r="1.6" fill="#231f20"/>
<circle cx="653.75" cy="457.4" r="1.6" fill="#231f20"/>
<circle cx="653.75" cy="462.9" r="1.6" fill="#231f20"/>
<circle cx="653.75" cy="464.4" r="1.6" fill="#231f20"/>
<circle cx="653.75" cy="465.9" r="1.6" fill="#231f20"/>
<circle cx="653.75" cy="467.4" r="1.6" fill="#231f20"/>
<circle cx="653.75" cy="468.4" r="1.6" fill="#231f20"/>
<circle cx="653.75" cy="473" r="1.6" fill="#231f20"/>
<circle cx="653.75" cy="478.6" r="1.6" fill="#231f20"/>
<circle cx="653.75" cy="483.3" r="1.6" fill="#231f20"/>
<circle cx="653.75" cy="484.8" r="1.6" fill="#231f20"/>
<circle cx="653.75" cy="486.3" r="1.6" fill="#231f20"/>
<circle cx="653.75" cy="487.8" r="1.6" fill="#231f20"/>
<circle cx="653.75" cy="489.3" r="1.6" fill="#231f20"/>
<circle cx="653.75" cy="490.8" r="1.6" fill="#231f20"/>
<circle cx="653.75" cy="492.3" r="1.6" fill="#231f20"/>
<circle cx="653.75" cy="493.8" r="1.6" fill="#231f20"/>
<circle cx="653.75" cy="495.3" r="1.6" fill="#231f20"/>
<circle cx="653.75" cy="496.8" r="1.6" fill="#231f20"/>
<circle cx="653.75" cy="498.3" r="1.6" fill="#231f20"/>
<circle cx="653.75" cy="499.1" r="1.6" fill="#231f20"/>
<circle cx="653.75" cy="504.1" r="1.6" fill="#231f20"/>
<circle cx="653.75" cy="511.6" r="1.6" fill="#231f20"/>
<circle cx="653.75" cy="513.1" r="1.6" fill="#231f20"/>
<circle cx="653.75" cy="514.0" r="1.6" fill="#231f20"/>
<rect x="415.6" y="380.6" width="269.00" height="268.90" fill="none" stroke="#231f20" stroke-width="1.35"/>
<line x1="412.90" y1="423.4" x2="415.6" y2="423.4" stroke="#231f20" stroke-width="0.65"/>
<text transform="translate(408.10,428.15) scale(1,1.06)" font-size="12.8" stroke="#231f20" stroke-width="0.22" text-anchor="end" fill="#231f20">1.00</text>
<line x1="412.90" y1="469.4" x2="415.6" y2="469.4" stroke="#231f20" stroke-width="0.65"/>
<text transform="translate(408.10,474.15) scale(1,1.06)" font-size="12.8" stroke="#231f20" stroke-width="0.22" text-anchor="end" fill="#231f20">0.50</text>
<line x1="412.90" y1="515.4" x2="415.6" y2="515.4" stroke="#231f20" stroke-width="0.65"/>
<text transform="translate(408.10,520.15) scale(1,1.06)" font-size="12.8" stroke="#231f20" stroke-width="0.22" text-anchor="end" fill="#231f20">0.00</text>
<line x1="412.90" y1="561.4" x2="415.6" y2="561.4" stroke="#231f20" stroke-width="0.65"/>
<text transform="translate(408.10,566.15) scale(1,1.06)" font-size="12.8" stroke="#231f20" stroke-width="0.22" text-anchor="end" fill="#231f20">–<tspan dx="0.4">0.50</tspan></text>
<line x1="412.90" y1="607.4" x2="415.6" y2="607.4" stroke="#231f20" stroke-width="0.65"/>
<text transform="translate(408.10,612.15) scale(1,1.06)" font-size="12.8" stroke="#231f20" stroke-width="0.22" text-anchor="end" fill="#231f20">–<tspan dx="0.4">1.00</tspan></text>
<line x1="446" y1="649.5" x2="446" y2="652.20" stroke="#231f20" stroke-width="0.65"/>
<text x="446.80" y="666.60" font-size="12.0" stroke="#231f20" stroke-width="0.22" text-anchor="middle" fill="#231f20">Age</text>
<text x="446.80" y="681.20" font-size="12.0" stroke="#231f20" stroke-width="0.22" text-anchor="middle" fill="#231f20">diversity</text>
<line x1="497.8" y1="649.5" x2="497.8" y2="652.20" stroke="#231f20" stroke-width="0.65"/>
<text x="498.00" y="666.60" font-size="12.0" stroke="#231f20" stroke-width="0.22" text-anchor="middle" fill="#231f20">Abundance</text>
<line x1="549.7" y1="649.5" x2="549.7" y2="652.20" stroke="#231f20" stroke-width="0.65"/>
<text x="549.90" y="666.60" font-size="12.0" stroke="#231f20" stroke-width="0.22" text-anchor="middle" fill="#231f20">AMO</text>
<line x1="601.6" y1="649.5" x2="601.6" y2="652.20" stroke="#231f20" stroke-width="0.65"/>
<text x="601.80" y="666.60" font-size="12.0" stroke="#231f20" stroke-width="0.22" text-anchor="middle" fill="#231f20">SST</text>
<line x1="653.6" y1="649.5" x2="653.6" y2="652.20" stroke="#231f20" stroke-width="0.65"/>
<text x="653.80" y="666.60" font-size="12.0" stroke="#231f20" stroke-width="0.22" text-anchor="middle" fill="#231f20">CV of SST</text>
<text transform="translate(365.7,515.0) rotate(-90)" font-size="14.25" font-weight="bold" stroke="#231f20" stroke-width="0.15" text-anchor="middle" fill="#231f20">S-map coefficients</text>
<text x="358.56" y="365.60" font-size="18.6" font-weight="bold" stroke="#231f20" stroke-width="0.15" fill="#231f20">d</text>
<text x="425.22" y="370.80" font-size="15" font-style="italic" stroke="#231f20" stroke-width="0.22" fill="#231f20" textLength="132.08" lengthAdjust="spacingAndGlyphs">Scomber scombrus</text>
<text x="559.45" y="370.80" font-size="15" stroke="#231f20" stroke-width="0.22" fill="#231f20">,</text>
<text x="569.08" y="370.80" font-size="16" font-style="italic" font-family="'Liberation Serif', serif" fill="#231f20">ρ</text>
<text x="580.33" y="370.80" font-size="15" stroke="#231f20" stroke-width="0.22" fill="#231f20">=</text>
<text x="593.48" y="370.80" font-size="15" stroke="#231f20" stroke-width="0.22" fill="#231f20">0.76</text>
<text x="628.45" y="370.80" font-size="15" font-style="italic" stroke="#231f20" stroke-width="0.22" fill="#231f20">N</text>
<text x="644.73" y="370.80" font-size="15" stroke="#231f20" stroke-width="0.22" fill="#231f20">=</text>
<text x="657.70" y="370.80" font-size="15" stroke="#231f20" stroke-width="0.22" fill="#231f20">41</text>
</svg>
</body></html>
